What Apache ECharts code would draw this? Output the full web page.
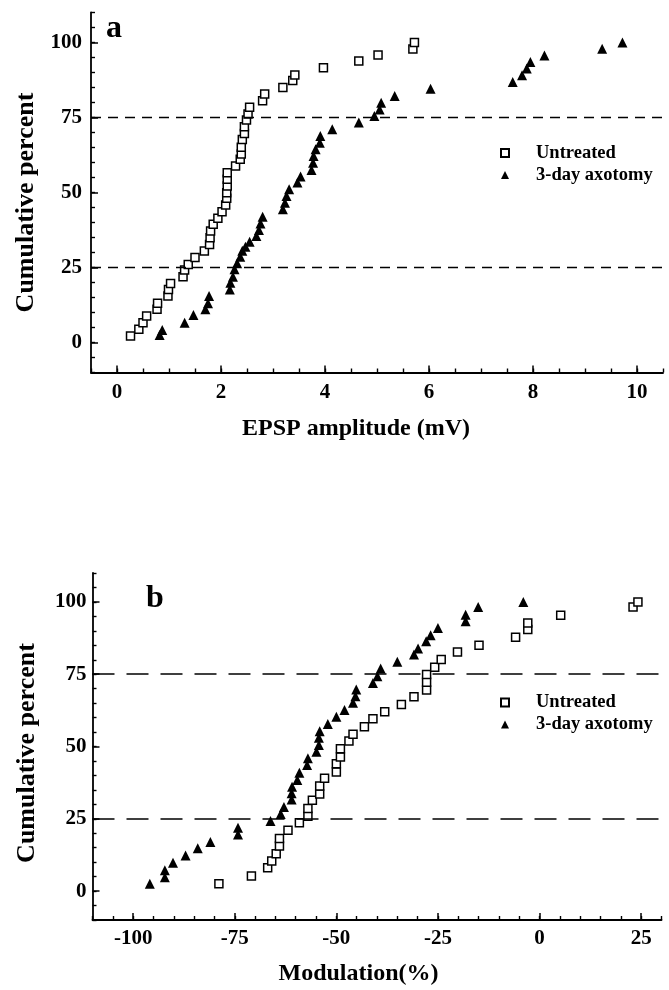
<!DOCTYPE html>
<html>
<head>
<meta charset="utf-8">
<script src="https://cdn.jsdelivr.net/npm/echarts@6/dist/echarts.min.js"></script>
<style>
html,body{margin:0;padding:0;background:#fff;}
#chart{width:669px;height:990px;}
</style>
</head>
<body>
<div id="chart"></div>
<script>
// ---------- Panel a: EPSP amplitude (mV) vs cumulative percent ----------
const untreatedA_amp = [0.26,0.42,0.50,0.57,0.77,0.78,0.98,0.99,1.03,1.27,1.30,1.37,1.50,1.68,1.78,1.79,1.80,1.85,1.94,2.02,2.09,2.11,2.11,2.12,2.12,2.12,2.28,2.37,2.39,2.39,2.41,2.45,2.45,2.49,2.52,2.55,2.80,2.84,3.19,3.38,3.42,3.97,4.65,5.02,5.69,5.72];
const untreatedA_pct = [2.2,4.4,6.6,8.8,11.1,13.1,15.5,17.7,19.7,21.9,24.2,26.0,28.3,30.5,32.7,34.9,37.2,39.4,41.4,43.6,45.8,48.1,49.9,52.2,54.4,56.6,58.8,61.1,62.8,65.1,67.7,69.7,71.9,74.2,76.2,78.4,80.6,82.8,85.0,87.3,89.2,91.6,93.8,95.8,97.8,100];
const axotomyA_amp = [0.82,0.87,1.30,1.47,1.70,1.75,1.77,2.17,2.18,2.23,2.26,2.31,2.37,2.41,2.47,2.55,2.68,2.73,2.76,2.80,3.19,3.23,3.26,3.31,3.47,3.53,3.74,3.77,3.78,3.82,3.90,3.91,4.14,4.65,4.95,5.05,5.08,5.34,6.03,7.61,7.79,7.88,7.95,8.22,9.33,9.72];
const axotomyA_pct = [2.5,4.2,6.6,9.2,11.1,13.1,15.5,17.7,19.9,21.9,24.4,26.4,28.6,30.6,31.9,33.6,35.5,37.5,39.7,41.9,44.4,46.6,48.8,51.1,53.3,55.3,57.5,59.9,62.2,64.4,66.6,68.8,71.1,73.3,75.5,77.7,79.9,82.2,84.6,86.8,89.1,91.3,93.5,95.7,97.9,100];

// ---------- Panel b: Modulation (%) vs cumulative percent ----------
const untreatedB_mod = [-78.9,-70.9,-66.9,-65.9,-64.8,-64.0,-64.0,-61.9,-59.1,-57.0,-57.0,-55.9,-54.1,-54.1,-52.9,-50.0,-50.0,-49.0,-49.0,-46.9,-45.9,-43.1,-41.0,-38.1,-34.0,-30.9,-27.8,-27.8,-27.8,-25.8,-24.2,-20.2,-14.9,-5.9,-2.9,-2.9,5.2,23.0,24.2];
const untreatedB_pct = [2.5,5.2,8.1,10.4,12.9,15.6,18.2,21.0,23.6,25.9,28.6,31.4,33.6,36.3,39.0,41.2,44.0,46.4,49.2,51.9,54.2,56.8,59.6,62.0,64.5,67.2,69.5,72.2,74.9,77.4,80.1,82.7,85.0,87.8,90.5,92.7,95.4,98.2,100];
const axotomyB_mod = [-95.9,-92.2,-92.2,-90.2,-87.1,-84.1,-81.0,-74.2,-74.2,-66.2,-63.7,-62.9,-61.0,-61.0,-60.9,-59.6,-59.1,-57.2,-57.0,-54.9,-54.3,-54.3,-54.1,-52.1,-50.0,-48.0,-45.9,-45.3,-45.1,-41.0,-39.9,-39.1,-35.0,-30.9,-29.9,-27.9,-26.8,-25.0,-18.2,-18.2,-15.1,-4.0];
const axotomyB_pct = [2.5,4.8,7.2,9.8,12.3,14.8,17.0,19.6,21.9,24.2,26.7,29.1,31.7,33.8,36.1,38.4,40.9,43.6,45.9,48.2,50.5,53.0,55.3,57.8,60.3,62.6,65.1,67.4,69.7,72.0,74.3,77.0,79.3,81.8,83.9,86.4,88.5,91.0,93.3,95.6,98.2,100];

// ---------- ticks, names, reference lines ----------
const xTicksA = [0, 2, 4, 6, 8, 10];
const xTicksB = [-100, -75, -50, -25, 0, 25];
const yTicks = [0, 25, 50, 75, 100];
const quartileLines = [25, 75];
const seriesNames = ['Untreated', '3-day axotomy'];
const panelLabels = ['a', 'b'];
const xTitles = ['EPSP amplitude (mV)', 'Modulation(%)'];
const yTitle = 'Cumulative percent';

const FONT = "'Liberation Serif', 'Times New Roman', serif";
const pairs = (xs, ys) => xs.map((x, i) => [x, ys[i]]);

function mainX(grid, min, max, step, majors, name, labelMargin, nameGap, namePad) {
  return {
    type: 'value', gridIndex: grid, position: 'bottom', min: min, max: max, interval: step,
    axisLine: { show: true, onZero: false, lineStyle: { color: '#000', width: 1.8 } },
    axisTick: { show: true, inside: true, length: 4, lineStyle: { color: '#000', width: 1.4 } },
    splitLine: { show: false },
    axisLabel: {
      margin: labelMargin, color: '#000', fontFamily: FONT, fontWeight: 'bold', fontSize: 21,
      formatter: v => majors.some(m => Math.abs(m - v) < 1e-6) ? String(Math.round(v)) : ''
    },
    name: name, nameLocation: 'middle', nameGap: nameGap,
    nameTextStyle: { color: '#000', fontFamily: FONT, fontWeight: 'bold', fontSize: 24, padding: namePad }
  };
}
function overlayX(grid, min, max, majors) {
  return {
    type: 'value', gridIndex: grid, position: 'bottom', min: min, max: max,
    axisLine: { show: false, onZero: false }, axisLabel: { show: false }, splitLine: { show: false },
    axisTick: { show: true, inside: true, length: 7, customValues: majors, lineStyle: { color: '#000', width: 1.5 } }
  };
}
function mainY(grid, labelMargin, nameGap, namePad) {
  return {
    type: 'value', gridIndex: grid, position: 'left', min: -10, max: 110, interval: 5,
    axisLine: { show: true, onZero: false, lineStyle: { color: '#000', width: 1.8 } },
    axisTick: { show: true, inside: true, length: 4, lineStyle: { color: '#000', width: 1.4 } },
    splitLine: { show: false },
    axisLabel: {
      margin: labelMargin, color: '#000', fontFamily: FONT, fontWeight: 'bold', fontSize: 21,
      formatter: v => yTicks.some(m => Math.abs(m - v) < 1e-6) ? String(Math.round(v)) : ''
    },
    name: yTitle, nameLocation: 'middle', nameGap: nameGap, nameRotate: 90,
    nameTextStyle: { color: '#000', fontFamily: FONT, fontWeight: 'bold', fontSize: 26, padding: namePad }
  };
}
function overlayY(grid) {
  return {
    type: 'value', gridIndex: grid, position: 'left', min: -10, max: 110,
    axisLine: { show: false, onZero: false }, axisLabel: { show: false }, splitLine: { show: false },
    axisTick: { show: true, inside: true, length: 7, customValues: yTicks, lineStyle: { color: '#000', width: 1.5 } }
  };
}
function refLines(dash, width) {
  return {
    silent: true, symbol: ['none', 'none'], label: { show: false },
    lineStyle: { color: '#000', type: dash, width: width },
    data: quartileLines.map(v => ({ yAxis: v }))
  };
}
const squareStyle = { color: '#fff', borderColor: '#000', borderWidth: 1.5, opacity: 1 };
const triStyle = { color: '#000', opacity: 1 };

function legendFor(top) {
  return {
    data: seriesNames, orient: 'vertical', left: 500, top: top, padding: 0,
    itemWidth: 8, itemHeight: 8, itemGap: 1,
    textStyle: { color: '#000', fontFamily: FONT, fontWeight: 'bold', fontSize: 18.5, lineHeight: 21, padding: [0, 0, 0, 22] }
  };
}

const chart = echarts.init(document.getElementById('chart'), null, { renderer: 'canvas' });
chart.setOption({
  animation: false,
  backgroundColor: '#fff',
  title: [
    { text: panelLabels[0], left: 106, top: 13, padding: 0, textStyle: { color: '#000', fontFamily: FONT, fontWeight: 'bold', fontSize: 32 } },
    { text: panelLabels[1], left: 146, top: 583, padding: 0, textStyle: { color: '#000', fontFamily: FONT, fontWeight: 'bold', fontSize: 32 } }
  ],
  legend: [legendFor(142.5), legendFor(692)],
  grid: [
    { left: 91, top: 12.5, width: 572, height: 360 },
    { left: 92.5, top: 573, width: 569, height: 347 }
  ],
  xAxis: [
    mainX(0, -0.5, 10.5, 0.5, xTicksA, xTitles[0], 10, 44, [0, 42, 0, 0]),
    overlayX(0, -0.5, 10.5, xTicksA),
    mainX(1, -110, 30, 5, xTicksB, xTitles[1], 8, 42, [0, 37, 0, 0]),
    overlayX(1, -110, 30, xTicksB)
  ],
  yAxis: [
    mainY(0, 9, 51, [0, 20, 0, 0]),
    overlayY(0),
    mainY(1, 6, 52, [0, 13, 0, 0]),
    overlayY(1)
  ],
  series: [
    { name: seriesNames[0], type: 'scatter', xAxisIndex: 0, yAxisIndex: 0, symbol: 'rect', symbolSize: 8,
      itemStyle: squareStyle, data: pairs(untreatedA_amp, untreatedA_pct), markLine: refLines([10, 7], 1.3), z: 3 },
    { name: seriesNames[1], type: 'scatter', xAxisIndex: 0, yAxisIndex: 0, symbol: 'triangle', symbolSize: 10,
      itemStyle: triStyle, data: pairs(axotomyA_amp, axotomyA_pct), z: 3 },
    { name: seriesNames[0], type: 'scatter', xAxisIndex: 2, yAxisIndex: 2, symbol: 'rect', symbolSize: 8,
      itemStyle: squareStyle, data: pairs(untreatedB_mod, untreatedB_pct), markLine: refLines([22, 12], 1.5), z: 3 },
    { name: seriesNames[1], type: 'scatter', xAxisIndex: 2, yAxisIndex: 2, symbol: 'triangle', symbolSize: 10,
      itemStyle: triStyle, data: pairs(axotomyB_mod, axotomyB_pct), z: 3 }
  ]
});
</script>
</body>
</html>
